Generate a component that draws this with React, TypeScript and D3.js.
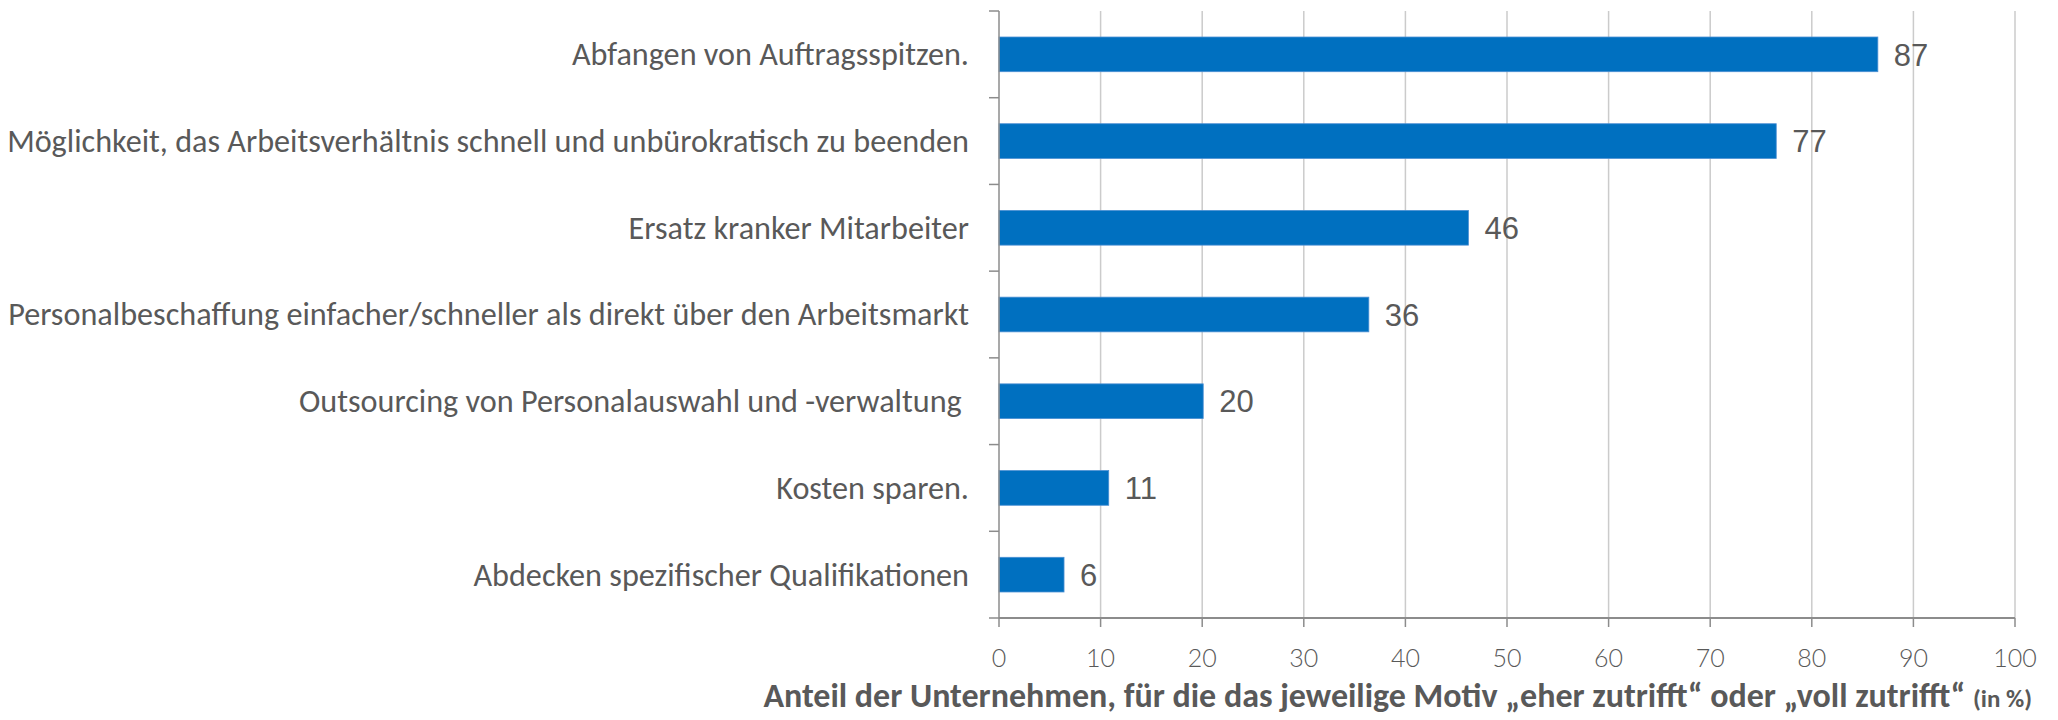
import * as d3 from 'd3';
import React from 'react';

// motives, top to bottom
const categories = [
  'Abfangen von Auftragsspitzen.',
  'Möglichkeit, das Arbeitsverhältnis schnell und unbürokratisch zu beenden',
  'Ersatz kranker Mitarbeiter',
  'Personalbeschaffung einfacher/schneller als direkt über den Arbeitsmarkt',
  'Outsourcing von Personalauswahl und -verwaltung ',
  'Kosten sparen.',
  'Abdecken spezifischer Qualifikationen',
];
// share of companies (%), bar lengths
const values = [86.5, 76.5, 46.2, 36.4, 20.1, 10.8, 6.4];
const xTicks = [0, 10, 20, 30, 40, 50, 60, 70, 80, 90, 100];
const axisTitle = 'Anteil der Unternehmen, für die das jeweilige Motiv „eher zutrifft“ oder „voll zutrifft“ ';
const axisTitleUnit = '(in %)';

const W = 2058;
const H = 720;
const margin = { top: 11, right: 43, bottom: 102, left: 999 };
const barColor = '#0070C0';
const textColor = '#595959';
const gridColor = '#CBCBCB';
const axisColor = '#8C8C8C';
const labelFont = "Carlito, 'Open Sans', sans-serif";
const valueFont = "'Liberation Sans', Arial, sans-serif";
const tickFont = "'Lato', 'Liberation Sans', sans-serif";

const App = () => {
  const innerW = W - margin.left - margin.right;
  const innerH = H - margin.top - margin.bottom;

  const x = d3.scaleLinear().domain([0, 100]).range([0, innerW]);
  const y = d3.scaleBand().domain(categories).range([0, innerH]).paddingInner(0.6).paddingOuter(0.3);
  const fmt = d3.format('.0f');

  // band boundaries for the category ticks
  const bounds = d3.range(categories.length + 1).map((i) => i * (innerH / categories.length));

  return (
    <svg width={W} height={H} style={{ position: 'absolute', left: 0, top: 0, background: '#fff' }}>
      <g transform={`translate(${margin.left},${margin.top})`}>
        {/* vertical gridlines */}
        {xTicks.filter((t) => t > 0).map((t) => (
          <line key={'g' + t} x1={x(t)} x2={x(t)} y1={0} y2={innerH} stroke={gridColor} strokeWidth={1.5} />
        ))}

        {/* bars */}
        {categories.map((c, i) => (
          <rect key={c} x={0} y={y(c)} width={x(values[i])} height={y.bandwidth()}
            fill={barColor} stroke="#4A8FD3" strokeWidth={0.8} />
        ))}

        {/* value labels */}
        {categories.map((c, i) => (
          <text key={'v' + c} x={x(values[i]) + 16} y={(y(c) as number) + y.bandwidth() / 2}
            dy="0.36em" fontFamily={valueFont} fontSize={31} fill={textColor}>
            {fmt(values[i])}
          </text>
        ))}

        {/* category axis */}
        <line x1={0} x2={0} y1={0} y2={innerH} stroke={axisColor} strokeWidth={1.5} />
        {bounds.map((b, i) => (
          <line key={'t' + i} x1={-10} x2={0} y1={b} y2={b} stroke={axisColor} strokeWidth={1.5} />
        ))}
        {categories.map((c) => (
          <text key={'l' + c} x={-30} y={(y(c) as number) + y.bandwidth() / 2} dy="0.34em"
            textAnchor="end" fontFamily={labelFont} fontSize={32.2} fill={textColor}
            style={{ whiteSpace: 'pre' }}>
            {c}
          </text>
        ))}

        {/* value axis */}
        <line x1={0} x2={innerW} y1={innerH} y2={innerH} stroke={axisColor} strokeWidth={2} />
        {xTicks.map((t) => (
          <line key={'xt' + t} x1={x(t)} x2={x(t)} y1={innerH} y2={innerH + 9} stroke={axisColor} strokeWidth={1.5} />
        ))}
        {xTicks.map((t) => (
          <text key={'xl' + t} x={x(t)} y={innerH + 49} textAnchor="middle"
            fontFamily={tickFont} fontWeight={300} fontSize={25} fill={textColor}>
            {t}
          </text>
        ))}
      </g>

      <text x={2032} y={707} textAnchor="end" fontFamily={labelFont} fontWeight={700} fontSize={34} fill={textColor}
        style={{ whiteSpace: 'pre' }}>
        {axisTitle}
        <tspan fontSize={25}>{axisTitleUnit}</tspan>
      </text>
    </svg>
  );
};

export default App;
